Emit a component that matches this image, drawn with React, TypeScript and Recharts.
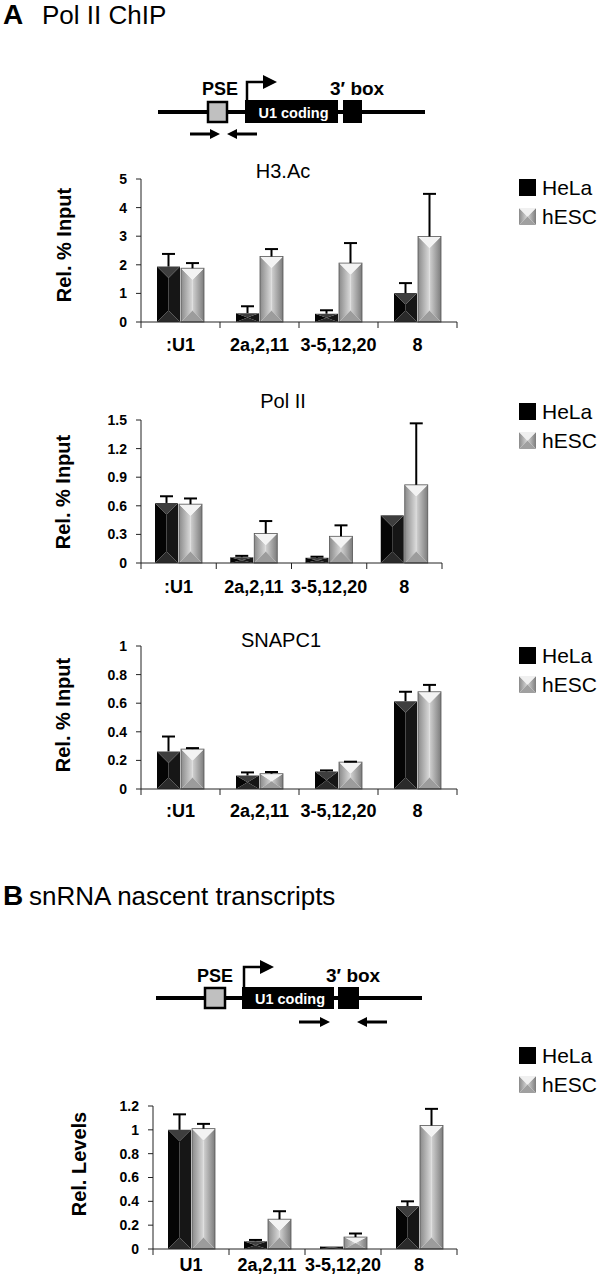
import React from 'react';
import { BarChart, Bar, XAxis, YAxis, Legend } from 'recharts';

const FONT = '"Liberation Sans", Arial, Helvetica, sans-serif';

// categories
const chipSites = [':U1', '2a,2,11', '3-5,12,20', '8'];
const nascentSites = ['U1', '2a,2,11', '3-5,12,20', '8'];

// H3.Ac ChIP
const h3acHela = [1.94, 0.31, 0.29, 1.01];
const h3acHelaSd = [0.44, 0.24, 0.12, 0.35];
const h3acEsc = [1.88, 2.29, 2.06, 2.99];
const h3acEscSd = [0.18, 0.26, 0.7, 1.49];
const h3acTicks = [0, 1, 2, 3, 4, 5];

// Pol II ChIP
const polHela = [0.63, 0.06, 0.056, 0.5];
const polHelaSd = [0.07, 0.015, 0.01, 0];
const polEsc = [0.617, 0.31, 0.28, 0.82];
const polEscSd = [0.06, 0.13, 0.115, 0.645];
const polTicks = [0, 0.3, 0.6, 0.9, 1.2, 1.5];

// SNAPC1 ChIP
const snapHela = [0.263, 0.095, 0.123, 0.614];
const snapHelaSd = [0.104, 0.021, 0.007, 0.066];
const snapEsc = [0.279, 0.107, 0.188, 0.68];
const snapEscSd = [0.007, 0.012, 0.003, 0.048];
const snapTicks = [0, 0.2, 0.4, 0.6, 0.8, 1];

// nascent transcripts
const rnaHela = [1.0, 0.065, 0.02, 0.36];
const rnaHelaSd = [0.13, 0.011, 0, 0.04];
const rnaEsc = [1.01, 0.25, 0.1, 1.036];
const rnaEscSd = [0.04, 0.067, 0.03, 0.14];
const rnaTicks = [0, 0.2, 0.4, 0.6, 0.8, 1, 1.2];

const makeRows = (sites: string[], hela: number[], helaSd: number[], hesc: number[], hescSd: number[]) =>
  sites.map((site, i) => ({ site, hela: hela[i], helaSd: helaSd[i], hesc: hesc[i], hescSd: hescSd[i] }));

// bevelled ("pyramid") bar with an upward error whisker
const pyramidBar = (kind: 'hela' | 'hesc') => (props: any) => {
  const { x, y, width: w, height: h, payload } = props;
  if (!w || h == null) return <g />;
  const v = payload[kind];
  const sd = payload[kind + 'Sd'];
  const d = Math.max(0, Math.min(w / 2, h / 2));
  const cx = x + w / 2;
  const b = y + h;
  const fills =
    kind === 'hela'
      ? { l: '#050505', r: '#161616', t: '#3e3e3e', bt: '#2a2a2a' }
      : { l: 'url(#escLeft)', r: 'url(#escRight)', t: '#f3f3f3', bt: '#9c9c9c' };
  const k = v > 0 ? h / v : 0;
  const top = y - sd * k;
  return (
    <g>
      <polygon points={`${x},${y} ${cx},${y + d} ${cx},${b - d} ${x},${b}`} fill={fills.l} />
      <polygon points={`${x + w},${y} ${cx},${y + d} ${cx},${b - d} ${x + w},${b}`} fill={fills.r} />
      <polygon points={`${x},${y} ${x + w},${y} ${cx},${y + d}`} fill={fills.t} />
      <polygon points={`${x},${b} ${x + w},${b} ${cx},${b - d}`} fill={fills.bt} />
      {kind === 'hesc' && <rect x={x} y={y} width={w} height={h} fill="none" stroke="#555" strokeWidth={0.8} />}
      {sd > 0 && (
        <g stroke="#000" strokeWidth={2}>
          <line x1={cx} x2={cx} y1={y} y2={top} />
          <line x1={cx - 6.5} x2={cx + 6.5} y1={top} y2={top} />
        </g>
      )}
    </g>
  );
};

const LegendIcon = ({ kind }: { kind: string }) => (
  <svg width={17} height={17} style={{ display: 'block' }}>
    {kind === 'hela' ? (
      <rect x={0} y={0} width={17} height={17} fill="#000" />
    ) : (
      <g>
        <polygon points="0,0 8.5,8.5 0,17" fill="url(#escLeft)" />
        <polygon points="17,0 8.5,8.5 17,17" fill="url(#escRight)" />
        <polygon points="0,0 17,0 8.5,8.5" fill="#f0f0f0" />
        <polygon points="0,17 17,17 8.5,8.5" fill="#a0a0a0" />
      </g>
    )}
  </svg>
);

const legendContent = (props: any) => (
  <div style={{ fontFamily: FONT, fontSize: 21, color: '#000' }}>
    {(props.payload || []).map((p: any) => (
      <div key={p.dataKey} style={{ display: 'flex', alignItems: 'center', height: 17, marginBottom: 12 }}>
        <LegendIcon kind={p.dataKey} />
        <span style={{ marginLeft: 6, lineHeight: '17px' }}>{p.value}</span>
      </div>
    ))}
  </div>
);

const CategoryTick = (props: any) => {
  const { x, y, payload, index, visibleTicksCount, half, labelDy } = props;
  const off = payload && payload.offset ? payload.offset : half;
  return (
    <g>
      <line x1={x - off} x2={x - off} y1={y} y2={y + 6} stroke="#222" />
      {index === visibleTicksCount - 1 && <line x1={x + off} x2={x + off} y1={y} y2={y + 6} stroke="#222" />}
      <text x={x} y={y + labelDy} textAnchor="middle" fontFamily={FONT} fontSize={18} fontWeight="bold" fill="#000">
        {payload.value}
      </text>
    </g>
  );
};

type PanelProps = {
  rows: any[];
  ticks: number[];
  top: number;
  height: number;
  plotLeft: number;
  plotRight: number;
  plotTop: number;
  plotBottom: number;
  labelDy: number;
  yTitle: string;
  yTitleX: number;
  yTitleY: number;
  legendTop: number;
};

const Panel = (p: PanelProps) => {
  const yAxisWidth = 60;
  const xAxisHeight = 30;
  const half = (p.plotRight - p.plotLeft) / p.rows.length / 2;
  const ty = p.yTitleY - p.top;
  return (
    <div style={{ position: 'absolute', left: 0, top: p.top }}>
      <BarChart
        width={603}
        height={p.height}
        data={p.rows}
        barSize={23}
        barGap={1}
        margin={{
          top: p.plotTop - p.top,
          left: p.plotLeft - yAxisWidth,
          right: 603 - p.plotRight,
          bottom: p.top + p.height - p.plotBottom - xAxisHeight,
        }}
      >
        <XAxis
          dataKey="site"
          height={xAxisHeight}
          interval={0}
          tickLine={false}
          tickSize={0}
          tickMargin={0}
          axisLine={{ stroke: '#222' }}
          tick={<CategoryTick half={half} labelDy={p.labelDy} />}
        />
        <YAxis
          width={yAxisWidth}
          domain={[p.ticks[0], p.ticks[p.ticks.length - 1]]}
          ticks={p.ticks}
          interval={0}
          axisLine={{ stroke: '#222' }}
          tickLine={{ stroke: '#222' }}
          tickSize={5}
          tickMargin={9}
          tick={{ fontFamily: FONT, fontSize: 14, fontWeight: 'bold', fill: '#000' }}
          label={{
            content: () => (
              <text
                x={p.yTitleX}
                y={ty}
                transform={`rotate(-90 ${p.yTitleX} ${ty})`}
                textAnchor="middle"
                dominantBaseline="central"
                fontFamily={FONT}
                fontSize={20}
                fontWeight="bold"
                fill="#000"
              >
                {p.yTitle}
              </text>
            ),
          }}
        />
        <Legend
          layout="vertical"
          align="center"
          verticalAlign="middle"
          content={legendContent}
          wrapperStyle={{ left: 519, top: p.legendTop - p.top, width: 84 }}
        />
        <Bar dataKey="hela" name="HeLa" fill="#000" shape={pyramidBar('hela')} isAnimationActive={false} />
        <Bar dataKey="hesc" name="hESC" fill="#bbb" shape={pyramidBar('hesc')} isAnimationActive={false} />
      </BarChart>
    </div>
  );
};

type GeneProps = {
  lineY: number; lineX1: number; lineX2: number;
  pseX: number; pseW: number; pseY: number; pseH: number;
  codX: number; codW: number; boxY: number; boxH: number; boxX: number; boxW: number;
  tssX: number; tssTop: number; tssEnd: number; headEnd: number;
  labelY: number; pseLabelX: number; boxLabelX: number;
  arrowY: number; fwd: number[]; rev: number[];
};

const Primer = ({ from, to, y }: { from: number; to: number; y: number }) => {
  const dir = to > from ? 1 : -1;
  return (
    <g>
      <line x1={from} x2={to - 8 * dir} y1={y} y2={y} stroke="#000" strokeWidth={3} />
      <polygon points={`${to},${y} ${to - 10 * dir},${y - 5} ${to - 10 * dir},${y + 5}`} fill="#000" />
    </g>
  );
};

const Gene = (g: GeneProps) => (
  <g fontFamily={FONT} fontWeight="bold">
    <line x1={g.lineX1} x2={g.lineX2} y1={g.lineY} y2={g.lineY} stroke="#000" strokeWidth={4} />
    <rect x={g.pseX} y={g.pseY} width={g.pseW} height={g.pseH} fill="#c0c0c0" stroke="#000" strokeWidth={2.5} />
    <rect x={g.codX} y={g.boxY} width={g.codW} height={g.boxH} fill="#000" />
    <text x={g.codX + g.codW / 2 + 2} y={g.boxY + g.boxH - 5} textAnchor="middle" fontSize={14.5} fill="#fff">
      U1 coding
    </text>
    <rect x={g.boxX} y={g.boxY} width={g.boxW} height={g.boxH} fill="#000" />
    <path d={`M${g.tssX} ${g.boxY} V${g.tssTop} H${g.tssEnd}`} fill="none" stroke="#000" strokeWidth={2.5} />
    <polygon points={`${g.tssEnd},${g.tssTop - 7} ${g.headEnd},${g.tssTop} ${g.tssEnd},${g.tssTop + 7}`} fill="#000" />
    <text x={g.pseLabelX} y={g.labelY} textAnchor="middle" fontSize={18}>PSE</text>
    <text x={g.boxLabelX} y={g.labelY} fontSize={19}>3′ box</text>
    <Primer from={g.fwd[0]} to={g.fwd[1]} y={g.arrowY} />
    <Primer from={g.rev[0]} to={g.rev[1]} y={g.arrowY} />
  </g>
);

const geneA: GeneProps = {
  lineY: 112, lineX1: 158, lineX2: 425, pseX: 208, pseW: 19, pseY: 102, pseH: 20,
  codX: 245, codW: 93, boxY: 100, boxH: 23, boxX: 343, boxW: 19,
  tssX: 247, tssTop: 82, tssEnd: 263, headEnd: 277,
  labelY: 95, pseLabelX: 220, boxLabelX: 330, arrowY: 134, fwd: [190, 220], rev: [257, 227],
};

const geneB: GeneProps = {
  lineY: 998, lineX1: 156, lineX2: 422, pseX: 205, pseW: 20, pseY: 988, pseH: 20,
  codX: 242, codW: 92, boxY: 987, boxH: 22, boxX: 338, boxW: 21,
  tssX: 244, tssTop: 967, tssEnd: 260, headEnd: 274,
  labelY: 982, pseLabelX: 215, boxLabelX: 326, arrowY: 1022, fwd: [299, 330], rev: [387, 357],
};

const ChartTitle = ({ x, y, text }: { x: number; y: number; text: string }) => (
  <text x={x} y={y} textAnchor="middle" fontFamily={FONT} fontSize={20} fill="#000">
    {text}
  </text>
);

export default function App() {
  return (
    <div style={{ position: 'relative', width: 603, height: 1280, background: '#fff', overflow: 'hidden' }}>
      <style>{'body{margin:0}'}</style>
      <svg width={603} height={1280} style={{ position: 'absolute', left: 0, top: 0 }}>
        <defs>
          <linearGradient id="escLeft" x1="0" y1="0" x2="1" y2="0">
            <stop offset="0" stopColor="#8a8a8a" />
            <stop offset="1" stopColor="#dadada" />
          </linearGradient>
          <linearGradient id="escRight" x1="0" y1="0" x2="1" y2="0">
            <stop offset="0" stopColor="#d2d2d2" />
            <stop offset="1" stopColor="#7c7c7c" />
          </linearGradient>
        </defs>
        <text x={3} y={24} fontFamily={FONT} fontSize={28} fontWeight="bold">A</text>
        <text x={42} y={24} fontFamily={FONT} fontSize={26}>Pol II ChIP</text>
        <Gene {...geneA} />
        <ChartTitle x={283} y={178} text="H3.Ac" />
        <ChartTitle x={283} y={408} text="Pol II" />
        <ChartTitle x={281} y={647} text="SNAPC1" />
        <text x={3} y={905} fontFamily={FONT} fontSize={28} fontWeight="bold">B</text>
        <text x={29} y={905} fontFamily={FONT} fontSize={26}>snRNA nascent transcripts</text>
        <Gene {...geneB} />
      </svg>
      <Panel
        rows={makeRows(chipSites, h3acHela, h3acHelaSd, h3acEsc, h3acEscSd)}
        ticks={h3acTicks}
        top={150} height={210}
        plotLeft={141} plotRight={457} plotTop={179} plotBottom={322} labelDy={29}
        yTitle="Rel. % Input" yTitleX={64} yTitleY={245} legendTop={179}
      />
      <Panel
        rows={makeRows(chipSites, polHela, polHelaSd, polEsc, polEscSd)}
        ticks={polTicks}
        top={385} height={215}
        plotLeft={141} plotRight={442} plotTop={420} plotBottom={563} labelDy={30}
        yTitle="Rel. % Input" yTitleX={63} yTitleY={492} legendTop={403}
      />
      <Panel
        rows={makeRows(chipSites, snapHela, snapHelaSd, snapEsc, snapEscSd)}
        ticks={snapTicks}
        top={625} height={210}
        plotLeft={141} plotRight={457} plotTop={646} plotBottom={789} labelDy={28}
        yTitle="Rel. % Input" yTitleX={63} yTitleY={715} legendTop={647}
      />
      <Panel
        rows={makeRows(nascentSites, rnaHela, rnaHelaSd, rnaEsc, rnaEscSd)}
        ticks={rnaTicks}
        top={1040} height={240}
        plotLeft={153} plotRight={457} plotTop={1106} plotBottom={1249} labelDy={22}
        yTitle="Rel. Levels" yTitleX={79} yTitleY={1164} legendTop={1047}
      />
    </div>
  );
}
